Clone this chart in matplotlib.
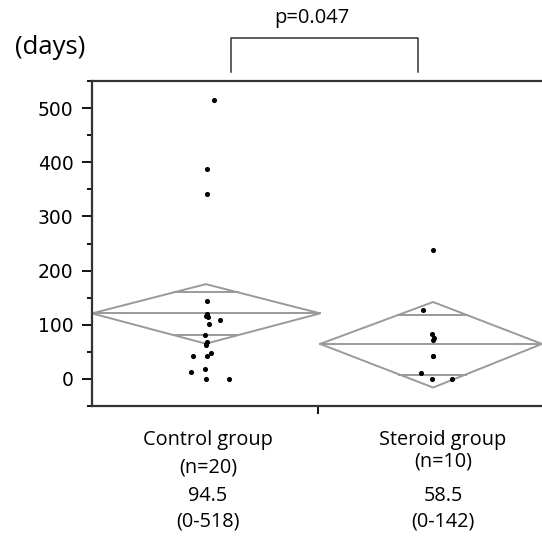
import matplotlib.pyplot as plt
import numpy as np

# group layout along x (0..1 spans the plot area)
groups = ["Control group", "Steroid group"]
group_n = ["(n=20)", "(n=10)"]
group_median = ["94.5", "58.5"]
group_range = ["(0-518)", "(0-142)"]
group_left = [0.0, 0.507]
group_right = [0.507, 1.0]
group_center = [0.253, 0.758]

# diamonds: mean, upper CI, lower CI, overlap marks
means = [121, 64.6]
ci_hi = [175, 142]
ci_lo = [65, -16]
ov_hi = [160, 118]
ov_lo = [81, 8]

# individual points (x jitter position, days)
ctrl_x = [0.272, 0.256, 0.256, 0.256, 0.254, 0.258, 0.284, 0.260, 0.251, 0.256,
          0.254, 0.224, 0.256, 0.264, 0.251, 0.220, 0.253, 0.304, 0.256, 0.254]
ctrl_y = [515, 388, 341, 144, 117, 114, 109, 101, 81, 69,
          62, 42, 42, 48, 18, 12, 0, 0, 119, 64]
ster_x = [0.758, 0.736, 0.755, 0.760, 0.758, 0.758, 0.731, 0.755, 0.800, 0.758]
ster_y = [238, 128, 82, 76, 72, 42, 11, 0, 0, 42]

fig = plt.figure(figsize=(5.42, 5.37), dpi=100)
ax = fig.add_axes([0.1697, 0.244, 0.8303, 0.605])

gray = "#9a9a9a"
for i in range(2):
    l, r, c = group_left[i], group_right[i], group_center[i]
    m = means[i]
    ax.plot([l, c, r, c, l], [m, ci_hi[i], m, ci_lo[i], m], color=gray, lw=1.4)
    ax.plot([l, r], [m, m], color=gray, lw=1.4)
    # overlap marks span the diamond width at their height
    for v in (ov_hi[i], ov_lo[i]):
        if v > m:
            f = (v - m) / (ci_hi[i] - m)
        else:
            f = (m - v) / (m - ci_lo[i])
        ax.plot([c - (c - l) * (1 - f), c + (r - c) * (1 - f)], [v, v],
                color=gray, lw=1.4)

ax.scatter(ctrl_x, ctrl_y, s=7, color="black", zorder=3)
ax.scatter(ster_x, ster_y, s=7, color="black", zorder=3)

ax.set_xlim(0, 1)
ax.set_ylim(-50, 550)
ax.set_yticks([0, 100, 200, 300, 400, 500])
ax.set_yticks(np.arange(-50, 551, 50), minor=True)
ax.set_xticks([0.502])
ax.set_xticklabels([""])
ax.tick_params(axis="y", which="major", length=7.2, width=1.3, labelsize=13.5, pad=6)
ax.tick_params(axis="y", which="minor", length=3.6, width=1.3)
ax.tick_params(axis="x", length=6, width=1.3)
for s in ("left", "bottom", "top"):
    ax.spines[s].set_linewidth(1.6)
    ax.spines[s].set_color("#333333")
ax.spines["right"].set_visible(False)

# significance bracket
bx = [0.308, 0.308, 0.724, 0.724]
by = [566, 629, 629, 566]
ax.plot(bx, by, color="#333333", lw=1.1, clip_on=False)

font = "Open Sans"
fig.text(312 / 542, 1 - 18 / 537, "p=0.047", ha="center", va="center",
         fontsize=14.5, family=font)
fig.text(50 / 542, 1 - 48 / 537, "(days)", ha="center", va="center",
         fontsize=18.5, family=font)

label_x = [208, 443]
rows = [(groups, 440), (group_n, 467), (group_median, 496), (group_range, 522)]
for j in range(2):
    for texts, ypix in rows:
        yy = ypix
        if j == 1 and texts is group_n:
            yy = 461
        fig.text(label_x[j] / 542, 1 - yy / 537, texts[j], ha="center",
                 va="center", fontsize=14.3, family=font)

fig.savefig("out.png", dpi=100)
